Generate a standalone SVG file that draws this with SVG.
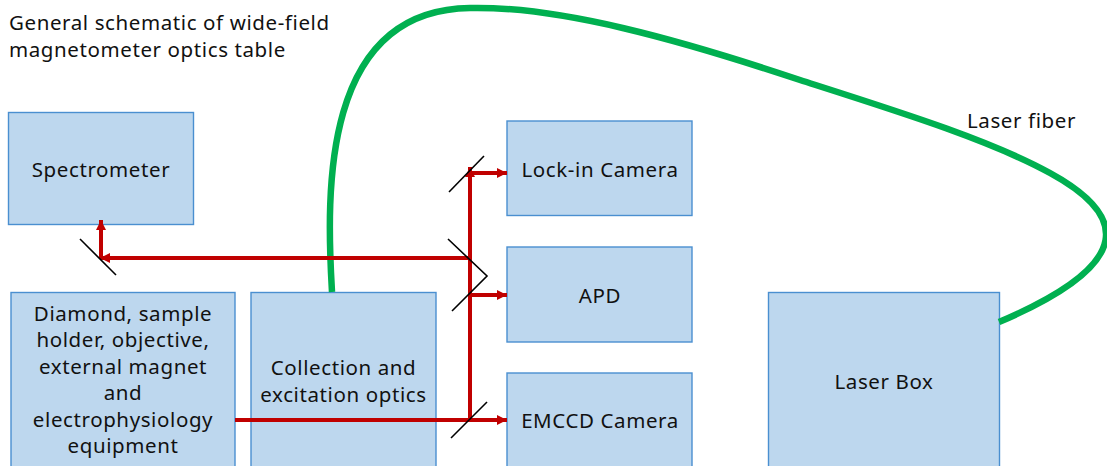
<svg xmlns="http://www.w3.org/2000/svg" width="1107" height="466" viewBox="0 0 1107 466">
  <defs>
    <style>
      .box { fill: #BDD7EE; stroke: #4A8FD0; stroke-width: 1.4; }
      .lbl { font-family: "Noto Sans", "Open Sans", "Liberation Sans", sans-serif; font-size: 20.5px; letter-spacing: 0.6px; fill: #111; }
      .ctr { text-anchor: middle; }
      .beam { fill: none; stroke: #C00000; stroke-width: 4; }
      .mirror { fill: none; stroke: #000; stroke-width: 1.6; }
      .fiber { fill: none; stroke: #00B050; stroke-width: 6.5; stroke-linecap: butt; }
    </style>
    <marker id="head" viewBox="0 0 10 10" refX="10" refY="5" markerWidth="10" markerHeight="10" markerUnits="userSpaceOnUse" orient="auto">
      <path d="M0,0 L10,5 L0,10 Z" fill="#C00000"/>
    </marker>
  </defs>

  <rect width="1107" height="466" fill="#fff"/>

  <g id="title">
    <text class="lbl" x="9" y="30">General schematic of wide-field</text>
    <text class="lbl" x="9" y="57">magnetometer optics table</text>
  </g>

  <g id="spectrometer">
    <rect class="box" x="8.5" y="112.5" width="185" height="112"/>
    <text class="lbl ctr" x="101" y="177">Spectrometer</text>
  </g>

  <g id="lockin-camera">
    <rect class="box" x="507" y="121" width="185" height="94.5"/>
    <text class="lbl ctr" x="600" y="177">Lock-in Camera</text>
  </g>

  <g id="apd">
    <rect class="box" x="507" y="247" width="185" height="95"/>
    <text class="lbl ctr" x="600" y="303">APD</text>
  </g>

  <g id="emccd-camera">
    <rect class="box" x="507" y="373" width="185" height="100"/>
    <text class="lbl ctr" x="600" y="428">EMCCD Camera</text>
  </g>

  <g id="sample-stage">
    <rect class="box" x="11" y="292.5" width="224" height="180"/>
    <text class="lbl ctr" x="123" y="321">Diamond, sample</text>
    <text class="lbl ctr" x="123" y="347">holder, objective,</text>
    <text class="lbl ctr" x="123" y="374">external magnet</text>
    <text class="lbl ctr" x="123" y="400">and</text>
    <text class="lbl ctr" x="123" y="427">electrophysiology</text>
    <text class="lbl ctr" x="123" y="453">equipment</text>
  </g>

  <g id="optics">
    <rect class="box" x="251" y="292.5" width="185" height="180"/>
    <text class="lbl ctr" x="343.5" y="375">Collection and</text>
    <text class="lbl ctr" x="343.5" y="402">excitation optics</text>
  </g>

  <g id="laser-box">
    <rect class="box" x="768.5" y="292.5" width="231" height="180"/>
    <text class="lbl ctr" x="884" y="389">Laser Box</text>
  </g>

  <g id="fiber-label">
    <text class="lbl" x="967" y="128">Laser fiber</text>
  </g>

  <g id="connectors">
    <!-- optical fiber from laser box to excitation optics -->
    <path class="fiber" d="M332,292 C326,190 322,10 470,8 C560,6 680,40 800,80 C900,112 990,140 1050,173 C1125,214 1140,262 999,322"/>

    <!-- beam from sample through optics to EMCCD -->
    <path class="beam" d="M235,420 L507,420" marker-end="url(#head)"/>
    <!-- vertical beam to upper detectors -->
    <path class="beam" d="M470,420 L470,167" marker-end="url(#head)"/>
    <path class="beam" d="M470,173 L507,173" marker-end="url(#head)"/>
    <path class="beam" d="M470,295 L507,295" marker-end="url(#head)"/>
    <!-- branch to spectrometer -->
    <path class="beam" d="M470,258 L100,258" marker-end="url(#head)"/>
    <path class="beam" d="M101,258 L101,220" marker-end="url(#head)"/>

    <!-- mirrors -->
    <path class="mirror" d="M80,239 L116,275"/>
    <path class="mirror" d="M449,192 L484,156"/>
    <path class="mirror" d="M448,239 L487,276 L452,311"/>
    <path class="mirror" d="M451,438 L487,402"/>
  </g>
</svg>
